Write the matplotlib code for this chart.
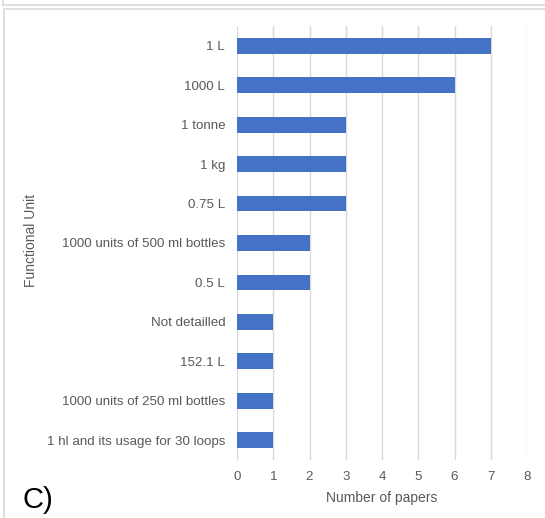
import matplotlib.pyplot as plt
from matplotlib.patches import Rectangle
from matplotlib.lines import Line2D

plt.rcParams['font.family'] = ['Liberation Sans', 'DejaVu Sans']

# functional units, listed top to bottom
units = ["1 L", "1000 L", "1 tonne", "1 kg", "0.75 L",
         "1000 units of 500 ml bottles", "0.5 L", "Not detailled",
         "152.1 L", "1000 units of 250 ml bottles",
         "1 hl and its usage for 30 loops"]
papers = [7, 6, 3, 3, 3, 2, 2, 1, 1, 1, 1]
xticks = list(range(0, 9))

W, H = 545, 518
fig = plt.figure(figsize=(W / 100, H / 100), dpi=100)

# panel borders (bottom of the panel above, and this one)
fig.add_artist(Line2D([3 / W, 3 / W], [1, 1 - 5 / H], color="#d9d9d9", lw=1.2))
fig.add_artist(Line2D([3 / W, 1], [1 - 5 / H, 1 - 5 / H], color="#d9d9d9", lw=1.2))
fig.add_artist(Rectangle((3.5 / W, -0.01), 1, 1 - 8.5 / H + 0.01,
                         transform=fig.transFigure, fill=False,
                         edgecolor="#d9d9d9", lw=1.2))

ax = fig.add_axes([237 / W, 1 - 460 / H, 290 / W, 434 / H])
pos = list(range(len(units)))
ax.barh(pos, papers, height=0.4, color="#4472c4", zorder=3)
ax.set_ylim(len(units) - 0.5, -0.5)
ax.set_xlim(0, 8)
ax.set_xticks(xticks)
ax.set_yticks(pos)
ax.set_yticklabels(units)

ax.grid(axis="x", color="#d9d9d9", lw=1, zorder=0)
for s in ax.spines.values():
    s.set_visible(False)
ax.tick_params(axis="both", length=0, labelsize=9.6, labelcolor="#595959")
ax.tick_params(axis="y", pad=8.5)
ax.tick_params(axis="x", pad=8)

ax.set_xlabel("Number of papers", fontsize=10, color="#595959", labelpad=6)
fig.text(31 / W, 1 - 240 / H, "Functional Unit", rotation=90, fontsize=10,
         color="#595959", ha="center", va="center")
fig.text(22 / W, 1 - 500 / H, "C)", fontsize=21, color="black",
         ha="left", va="center")

fig.savefig("out.png", dpi=100)
